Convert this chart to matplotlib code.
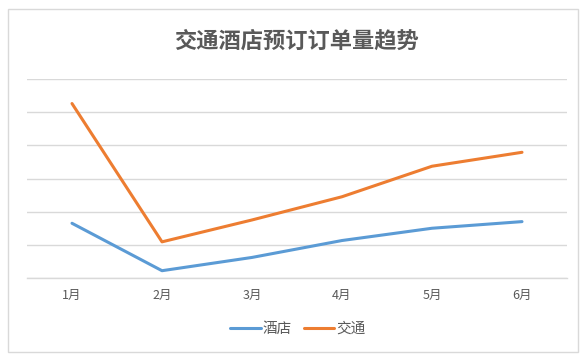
import matplotlib
matplotlib.use("Agg")
import matplotlib.pyplot as plt
from matplotlib.patches import Rectangle

plt.rcParams['font.family'] = ['Noto Sans CJK SC', 'DejaVu Sans']

months = ['1月', '2月', '3月', '4月', '5月', '6月']
hotel = [1.65, 0.22, 0.62, 1.13, 1.50, 1.70]
traffic = [5.26, 1.09, 1.75, 2.45, 3.37, 3.79]

W, H = 587, 357
fig = plt.figure(figsize=(W/100, H/100), dpi=100)
fig.patch.set_facecolor('white')
fig.patches.append(Rectangle((8/W, 1-352/H), 570/W, 343/H, transform=fig.transFigure,
                             fill=False, edgecolor='#d9d9d9', linewidth=1))

ax = fig.add_axes([27/W, 1-278/H, 540/W, 199/H])
x = list(range(len(months)))
ax.plot(x, hotel, color='#5B9BD5', linewidth=2.2, label='酒店', solid_capstyle='round')
ax.plot(x, traffic, color='#ED7D31', linewidth=2.2, label='交通', solid_capstyle='round')
ax.set_xlim(-0.5, 5.5)
ax.set_ylim(0, 6)
ax.set_yticks(range(7))
ax.set_yticklabels([])
ax.tick_params(axis='y', length=0)
ax.tick_params(axis='x', length=0, pad=8, labelsize=9, labelcolor='#595959')
ax.set_xticks(x)
ax.set_xticklabels(months)
ax.grid(axis='y', color='#d9d9d9', linewidth=1)
ax.set_axisbelow(True)
for s in ['top', 'right', 'left']:
    ax.spines[s].set_visible(False)
ax.spines['bottom'].set_color('#d9d9d9')
ax.spines['bottom'].set_linewidth(1)

fig.text(296/W, 1-41/H, '交通酒店预订订单量趋势', ha='center', va='center',
         fontsize=16, fontweight='bold', color='#595959')

fig.legend(loc='center', bbox_to_anchor=(298/W, 1-329/H), ncol=2, frameon=False,
           fontsize=10.5, labelcolor='#595959', handlelength=2.1, handletextpad=0.15,
           columnspacing=0.8)

fig.savefig('out.png', dpi=100)
